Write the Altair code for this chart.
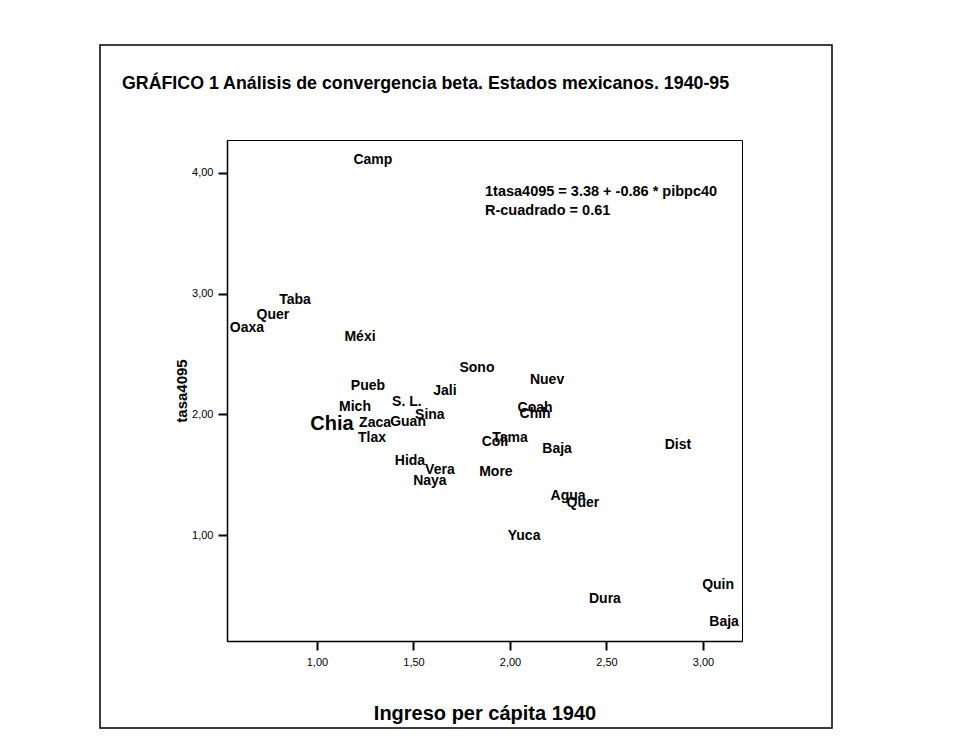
import altair as alt
import pandas as pd

# ---- data ----
estados = ["Camp", "Taba", "Quer", "Oaxa", "Méxi", "Sono", "Nuev", "Pueb", "Jali",
           "S. L.", "Mich", "Sina", "Coah", "Chih", "Chia", "Zaca", "Guan", "Tlax",
           "Tama", "Coli", "Baja", "Dist", "Hida", "Vera", "Naya", "More", "Agua",
           "Quer", "Yuca", "Quin", "Dura", "Baja"]
ingreso_1940 = [1.290, 0.886, 0.772, 0.637, 1.223, 1.829, 2.192, 1.264, 1.663,
                1.466, 1.197, 1.585, 2.130, 2.130, 1.078, 1.301, 1.472, 1.285,
                2.000, 1.922, 2.244, 2.870, 1.482, 1.637, 1.585, 1.927, 2.301,
                2.378, 2.073, 3.078, 2.492, 3.109]
tasa4095 = [4.108, 2.948, 2.824, 2.716, 2.641, 2.384, 2.285, 2.235, 2.194,
            2.103, 2.061, 1.995, 2.053, 2.003, 1.920, 1.929, 1.937, 1.805,
            1.805, 1.771, 1.713, 1.746, 1.614, 1.539, 1.448, 1.523, 1.324,
            1.266, 0.993, 0.587, 0.471, 0.280]
x_ticks = [1.0, 1.5, 2.0, 2.5, 3.0]
y_ticks = [1.0, 2.0, 3.0, 4.0]

titulo = "GRÁFICO 1 Análisis de convergencia beta. Estados mexicanos. 1940-95"
ecuacion = "1tasa4095 = 3.38 + -0.86 * pibpc40"
r2 = "R-cuadrado = 0.61"

df = pd.DataFrame({"estado": estados, "ingreso": ingreso_1940, "tasa": tasa4095})

FONT = "Liberation Sans"
comma_fmt = "replace(format(datum.value, '.2f'), '.', ',')"

labels = alt.Chart(df).mark_text(
    font=FONT, fontWeight="bold", color="black", baseline="middle", align="center"
).encode(
    x=alt.X("ingreso:Q",
            scale=alt.Scale(domain=[0.534, 3.202], nice=False, zero=False),
            axis=alt.Axis(values=x_ticks, labelExpr=comma_fmt,
                          title="Ingreso per cápita 1940", titlePadding=36,
                          labelPadding=6)),
    y=alt.Y("tasa:Q",
            scale=alt.Scale(domain=[0.122, 4.273], nice=False, zero=False),
            axis=alt.Axis(values=y_ticks, labelExpr=comma_fmt,
                          title="tasa4095", titlePadding=2, labelPadding=5)),
    text="estado:N",
    size=alt.condition(alt.datum.estado == "Chia", alt.value(20), alt.value(14)),
)

one = pd.DataFrame({"k": [0]})

frame = alt.Chart(one).mark_rect(
    fillOpacity=0, stroke="black", strokeWidth=1.5
).encode(
    x=alt.value(-127), x2=alt.value(605), y=alt.value(-95), y2=alt.value(588)
)

title_mark = alt.Chart(one).mark_text(
    font=FONT, fontWeight="bold", fontSize=17.8, align="left", baseline="middle",
    color="black"
).encode(x=alt.value(-105), y=alt.value(-56), text=alt.value(titulo))

eq1 = alt.Chart(one).mark_text(
    font=FONT, fontWeight="bold", fontSize=14.5, align="left", baseline="middle",
    color="black"
).encode(x=alt.value(258), y=alt.value(52), text=alt.value(ecuacion))

eq2 = alt.Chart(one).mark_text(
    font=FONT, fontWeight="bold", fontSize=14.5, align="left", baseline="middle",
    color="black"
).encode(x=alt.value(258), y=alt.value(71), text=alt.value(r2))

chart = alt.layer(frame, title_mark, labels, eq1, eq2).properties(
    width=515, height=501,
    autosize=alt.AutoSizeParams(type="none"),
    padding={"left": 219, "top": 132, "right": 220, "bottom": 88},
    background="white",
).configure_view(
    stroke="black", strokeWidth=1
).configure_axis(
    grid=False, domainColor="black", domainWidth=1.5,
    tickColor="black", tickSize=9, tickWidth=2,
    labelColor="black", labelFont=FONT, labelFontSize=11,
    titleColor="black", titleFont=FONT, titleFontWeight="bold", titleFontSize=20,
).configure_axisY(titleFontSize=15)

chart.save("out.html", embed_options={"renderer": "svg", "actions": False})
